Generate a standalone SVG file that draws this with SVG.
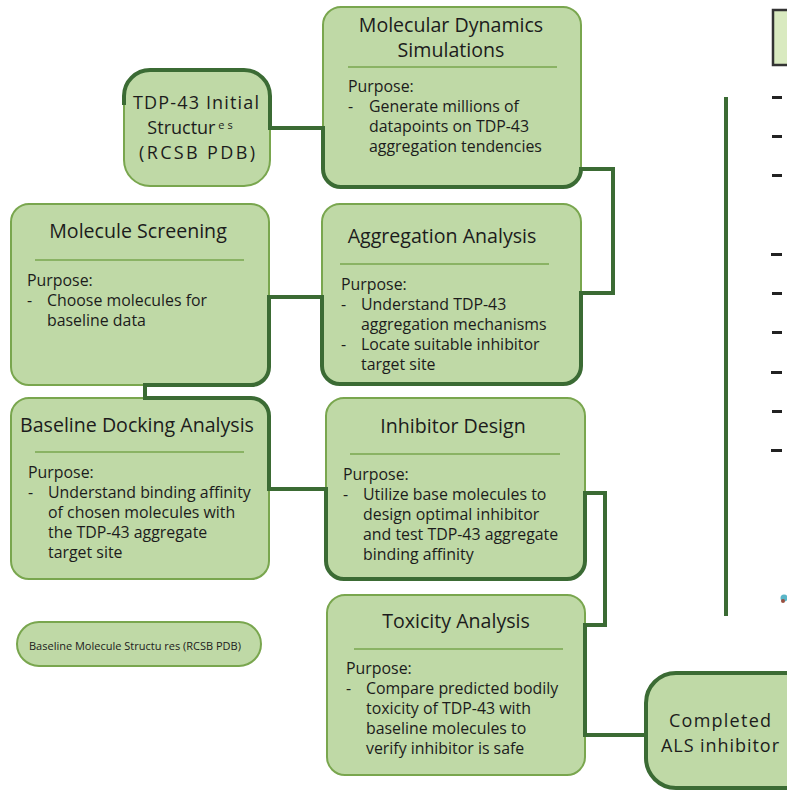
<svg xmlns="http://www.w3.org/2000/svg" width="787" height="791" viewBox="0 0 787 791">
<style>
.box{fill:#bfd9a6;stroke:#79a64e;stroke-width:2}
.hl{stroke:#79a64e;stroke-width:1.5}
.con{fill:none;stroke:#3b6b34;stroke-width:4;stroke-linejoin:miter}
.t{font-family:"Open Sans","Liberation Sans",sans-serif;fill:#1c1c1c}
.ti{font-size:19.6px;text-anchor:middle}
.tn{font-size:18px;text-anchor:middle}
.b{font-size:15.9px}
.dash{fill:#222}
</style>
<rect width="787" height="791" fill="#ffffff"/>
<g id="tdp43">
<rect class="box" x="124" y="70" width="146" height="116" rx="26"/>
<text class="t tn" x="196" y="109" textLength="126" lengthAdjust="spacing">TDP-43 Initial</text>
<text class="t tn" x="190" y="134">Structur<tspan font-size="11" dy="-5"> e s</tspan></text>
<text class="t tn" x="197" y="159" textLength="116" lengthAdjust="spacing">(RCSB PDB)</text>
</g>
<g id="md">
<rect class="box" x="323" y="7" width="258" height="180" rx="18"/>
<text class="t ti" x="451" y="32">Molecular Dynamics</text>
<text class="t ti" x="451" y="57">Simulations</text>
<line class="hl" x1="348" y1="67" x2="557" y2="67"/>
<text class="t b" x="348" y="92">Purpose:</text>
<text class="t b" x="348" y="112">-</text>
<text class="t b" x="369" y="112">Generate millions of</text>
<text class="t b" x="369" y="132">datapoints on TDP-43</text>
<text class="t b" x="369" y="152">aggregation tendencies</text>
</g>
<g id="screening">
<rect class="box" x="11" y="204" width="258" height="181" rx="18"/>
<text class="t ti" x="138" y="238">Molecule Screening</text>
<line class="hl" x1="35" y1="260" x2="244" y2="260"/>
<text class="t b" x="27" y="286">Purpose:</text>
<text class="t b" x="27" y="306">-</text>
<text class="t b" x="47" y="306">Choose molecules for</text>
<text class="t b" x="47" y="326">baseline data</text>
</g>
<g id="aggregation">
<rect class="box" x="322" y="204" width="259" height="180" rx="18"/>
<text class="t ti" x="442" y="243">Aggregation Analysis</text>
<line class="hl" x1="340" y1="264" x2="549" y2="264"/>
<text class="t b" x="341" y="290">Purpose:</text>
<text class="t b" x="341" y="310">-</text>
<text class="t b" x="361" y="310">Understand TDP-43</text>
<text class="t b" x="361" y="330">aggregation mechanisms</text>
<text class="t b" x="341" y="350">-</text>
<text class="t b" x="361" y="350">Locate suitable inhibitor</text>
<text class="t b" x="361" y="370">target site</text>
</g>
<g id="docking">
<rect class="box" x="11" y="398" width="258" height="181" rx="18"/>
<text class="t ti" x="137" y="432">Baseline Docking Analysis</text>
<line class="hl" x1="35" y1="452" x2="244" y2="452"/>
<text class="t b" x="28" y="478">Purpose:</text>
<text class="t b" x="28" y="498">-</text>
<text class="t b" x="48" y="498">Understand binding affinity</text>
<text class="t b" x="48" y="518">of chosen molecules with</text>
<text class="t b" x="48" y="538">the TDP-43 aggregate</text>
<text class="t b" x="48" y="558">target site</text>
</g>
<g id="inhibitor">
<rect class="box" x="326" y="398" width="259" height="181" rx="18"/>
<text class="t ti" x="453" y="433">Inhibitor Design</text>
<line class="hl" x1="350" y1="454" x2="560" y2="454"/>
<text class="t b" x="343" y="480">Purpose:</text>
<text class="t b" x="343" y="500">-</text>
<text class="t b" x="363" y="500">Utilize base molecules to</text>
<text class="t b" x="363" y="520">design optimal inhibitor</text>
<text class="t b" x="363" y="540">and test TDP-43 aggregate</text>
<text class="t b" x="363" y="560">binding affinity</text>
</g>
<g id="toxicity">
<rect class="box" x="327" y="595" width="258" height="180" rx="18"/>
<text class="t ti" x="456" y="628">Toxicity Analysis</text>
<line class="hl" x1="354" y1="649" x2="563" y2="649"/>
<text class="t b" x="346" y="674">Purpose:</text>
<text class="t b" x="346" y="694">-</text>
<text class="t b" x="366" y="694">Compare predicted bodily</text>
<text class="t b" x="366" y="714">toxicity of TDP-43 with</text>
<text class="t b" x="366" y="734">baseline molecules to</text>
<text class="t b" x="366" y="754">verify inhibitor is safe</text>
</g>
<g id="baseline-structures">
<rect class="box" x="17" y="622" width="244" height="44" rx="22"/>
<text class="t" x="29" y="650" font-size="11">Baseline Molecule Structu  res (RCSB PDB)</text>
</g>
<g id="connectors">
<path class="con" d="M124,105 L124,96 A26,26 0 0 1 150,70 L244,70 A26,26 0 0 1 270,96 L270,128 L323,128 L323,169 A18,18 0 0 0 341,187 L563,187 A18,18 0 0 0 581,169 L613,169 L613,293 L581,293 L581,366 A18,18 0 0 1 563,384 L340,384 A18,18 0 0 1 322,366 L322,297 L269,297 L269,367 A18,18 0 0 1 251,385 L145,385 L145,398 L251,398 A18,18 0 0 1 269,416 L269,489 L326,489 L326,561 A18,18 0 0 0 344,579 L567,579 A18,18 0 0 0 585,561 L585,493 L605,493 L605,625 L585,625 L585,735 L646,735"/>
</g>
<g id="completed">
<rect x="646" y="673" width="170" height="115" rx="30" fill="#bfd9a6" stroke="#3b6b34" stroke-width="4"/>
<text class="t tn" x="720" y="727" textLength="102" lengthAdjust="spacing">Completed</text>
<text class="t tn" x="720" y="752" textLength="118" lengthAdjust="spacing">ALS inhibitor</text>
</g>
<g id="right-panel">
<rect x="773" y="10" width="20" height="55" fill="#d9eac0" stroke="#333" stroke-width="2.5"/>
<line x1="726" y1="97" x2="726" y2="616" stroke="#3b6b34" stroke-width="4"/>
<rect class="dash" x="772" y="96" width="10" height="3"/>
<rect class="dash" x="772" y="135" width="10" height="3"/>
<rect class="dash" x="772" y="174" width="10" height="3"/>
<rect class="dash" x="771" y="253" width="11" height="3"/>
<rect class="dash" x="772" y="292" width="10" height="3"/>
<rect class="dash" x="772" y="331" width="10" height="3"/>
<rect class="dash" x="771" y="371" width="11" height="3"/>
<rect class="dash" x="772" y="410" width="10" height="3"/>
<rect class="dash" x="771" y="449" width="11" height="3"/>
<circle cx="784" cy="598" r="3.5" fill="#5ab6c8"/>
<circle cx="783" cy="601" r="2" fill="#9a5040"/>
</g>
</svg>
